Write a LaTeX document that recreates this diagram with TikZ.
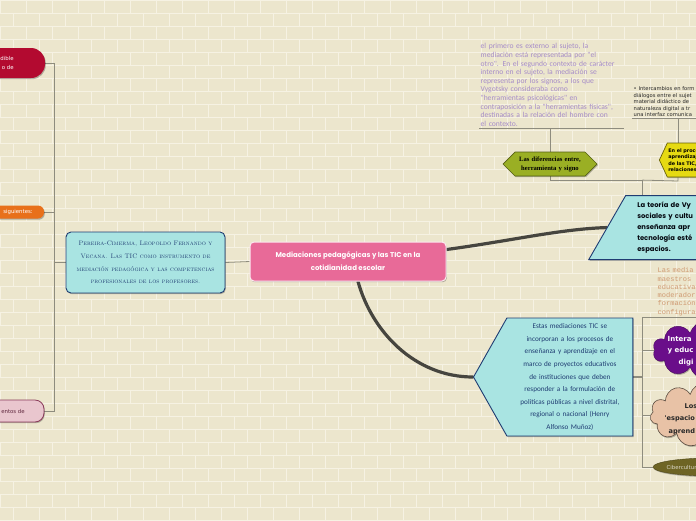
\documentclass[tikz,border=0pt]{standalone}
\usepackage{fontspec}
\usetikzlibrary{shapes.geometric,shapes.symbols,shadows,calc}
\newfontfamily\fntpop{Poppins}
\newfontfamily\fntcarl{Carlito}
\newfontfamily\fntdeja{DejaVu Sans}
\newfontfamily\fntser{Liberation Serif}
\newfontfamily\fntmono{Liberation Mono}
\definecolor{paper}{HTML}{ECE6CD}
\definecolor{joint}{HTML}{F6F2E3}
\definecolor{twig}{HTML}{8E8C7E}
\definecolor{trunkink}{HTML}{46453F}
\definecolor{navy}{HTML}{1F3C72}
\definecolor{aqua}{HTML}{A9E4E2}
\definecolor{rose}{HTML}{E86A98}
\definecolor{crimson}{HTML}{B30A30}
\definecolor{tangerine}{HTML}{E8701A}
\definecolor{blush}{HTML}{E9C6CE}
\definecolor{plum}{HTML}{8A3A5A}
\definecolor{lavender}{HTML}{A68CC8}
\definecolor{olivegreen}{HTML}{9AAF24}
\definecolor{lemon}{HTML}{E6DA12}
\definecolor{tan}{HTML}{CF9A72}
\definecolor{grape}{HTML}{6A0E8A}
\definecolor{peach}{HTML}{E8C2A6}
\definecolor{bark}{HTML}{6E6424}
\pgfdeclarelayer{paper}
\pgfdeclarelayer{links}
\pgfsetlayers{paper,links,main}
\tikzset{
  mm/.style={x=1pt,y=-1pt},
  shade/.style={drop shadow={shadow xshift=.8pt,shadow yshift=-1.2pt,
    opacity=.25,fill=black}},
  pill/.style={shade,inner sep=1pt,align=right,text=white,
    font=\fntdeja\fontsize{5.4}{8.5}\selectfont},
  card/.style={shade,draw=navy,fill=aqua,line width=.9pt,text=navy},
  topic/.style={shade,draw=white!85!rose,fill=rose,line width=1pt,
    rounded corners=4pt,text=white,align=center,minimum width=196pt,
    minimum height=39pt,font=\fntpop\bfseries\fontsize{7}{13}\selectfont},
  plain/.style={inner sep=1.5pt,align=left,anchor=north west},
  branch/.style={draw=twig,line width=.8pt},
  trunk/.style={draw=trunkink,line width=3.2pt,line cap=round},
  brick/.style={draw=joint,line width=.7pt},
}
\begin{document}
\begin{tikzpicture}[mm]
  \useasboundingbox (0,0) rectangle (696,520);
  \clip (0,0) rectangle (696,520);

  \begin{pgfonlayer}{paper}
    \fill[paper] (0,0) rectangle (696,520);
    \foreach \r in {0,...,40}
      \draw[brick] (0,\r*13) -- (696,\r*13);
    \foreach \r in {0,...,39}
      \foreach \c in {-1,...,27}
        \draw[brick] ({\c*26+mod(\r,2)*13},\r*13) -- ++(0,13);
  \end{pgfonlayer}

  % left side, children of the reference card
  \node[pill,fill=crimson,minimum width=76pt,minimum height=30pt,
    rounded corners=14pt] (dible) at (7,63) {dible\\o de};
  \node[pill,fill=tangerine,minimum width=52pt,minimum height=13pt,
    rounded corners=6pt] (siguientes) at (18,212) {siguientes:};
  \node[pill,fill=blush,draw=plum,line width=.8pt,text=plum!70!black,
    minimum width=62pt,minimum height=22pt,rounded corners=9pt]
    (entos) at (13,411) {entos de};

  \node[card,rounded corners=5pt,minimum width=159pt,minimum height=61pt,
    align=center,font=\rmfamily\scshape\fontsize{6.5}{12.7}\selectfont]
    (pereira) at (145.5,262.5)
    {Pereira-Cimerma, Leopoldo Fernando y\\Vecana. Las TIC como instrumento de\\
     mediación pedagógica y las competencias\\profesionales de los profesores.};

  % central topic
  \node[topic] (central) at (348,261.5)
    {Mediaciones pedagógicas y las TIC en la\\cotidianidad escolar};

  % upper right
  \node[card,trapezium,trapezium left angle=60,trapezium right angle=120,
    minimum height=64pt,text width=120pt,inner xsep=6pt,align=left,
    text=black!85!navy,anchor=bottom left corner,
    font=\fntpop\bfseries\fontsize{6.8}{11.2}\selectfont] (vygotsky) at (588,260)
    {La teoría de Vy\\sociales y cultu\\enseñanza apr\\tecnología esté\\espacios.};

  \node[shade,signal,signal to=west and east,signal pointer angle=90,
    fill=olivegreen,draw=olivegreen!55!black,line width=.7pt,
    minimum width=94pt,minimum height=24pt,text width=70pt,inner xsep=0pt,
    align=center,font=\fntser\bfseries\fontsize{6.6}{9}\selectfont]
    (diferencias) at (550,164) {Las diferencias entre,\\herramienta y signo};

  \node[plain,text width=142pt,text=lavender,
    font=\fntcarl\fontsize{7.6}{8.6}\selectfont] (primero) at (479,42)
    {el primero es externo al sujeto, la\\mediación está representada por "el\\
     otro". En el segundo contexto de carácter\\interno en el sujeto, la mediación se\\
     representa por los signos, a los que\\Vygotsky consideraba como\\
     "herramientas psicológicas" en\\contraposición a la "herramientas físicas",\\
     destinadas a la relación del hombre con\\el contexto.};

  \node[shade,signal,signal to=west,signal pointer angle=130,
    fill=lemon,draw=lemon!45!black,line width=.7pt,
    minimum height=34pt,text width=70pt,inner xsep=1pt,anchor=west,
    align=left,font=\fntdeja\bfseries\fontsize{4.9}{6.5}\selectfont]
    (proceso) at (659,160) {En el proce\\aprendizaj\\de las TIC,\\relaciones};

  \node[plain,text width=72pt,text=black!85,
    font=\fntdeja\fontsize{5.2}{6.5}\selectfont] (intercambios) at (632,85)
    {• Intercambios en form\\diálogos entre el sujet\\material didáctico de\\
     naturaleza digital a tr\\una interfaz comunica};

  % lower right
  \node[card,signal,signal to=west,signal pointer angle=121,
    minimum height=118pt,text width=118pt,inner xsep=4pt,anchor=west,
    align=center,font=\fntcarl\fontsize{7.2}{12.6}\selectfont]
    (estas) at (473,377)
    {Estas mediaciones TIC se\\incorporan a los procesos de\\
     enseñanza y aprendizaje en el\\marco de proyectos educativos\\
     de instituciones que deben\\responder a la formulación de\\
     políticas públicas a nivel distrital,\\regional o nacional (Henry\\
     Alfonso Muñoz)};

  \node[plain,text width=50pt,text=tan,
    font=\fntmono\fontsize{7}{8.3}\selectfont] (medias) at (656,266)
    {Las media\\maestros\\educativa\\moderador\\formación\\configura};

  \node[shade,cloud,cloud puffs=10,cloud ignores aspect,fill=grape,
    draw=grape!70!black,minimum width=106pt,minimum height=58pt]
    (intercloud) at (706,350) {};
  \node[plain,anchor=west,text=white,
    font=\fntdeja\bfseries\fontsize{7}{11.5}\selectfont] (interlabel) at (666,351)
    {Intera\\y educ\\\hspace*{11pt}digi};

  \node[shade,cloud,cloud puffs=11,cloud ignores aspect,fill=peach,
    draw=peach!40!black,line width=.6pt,minimum width=110pt,minimum height=64pt]
    (espcloud) at (705,415) {};
  \node[plain,anchor=west,text=black!85,
    font=\fntdeja\bfseries\fontsize{6.6}{12.3}\selectfont] (esplabel) at (663,419)
    {\hspace*{20pt}Los\\'espacio\\\hspace*{4pt}aprend};

  \node[shade,ellipse,fill=bark,draw=bark!70!black,minimum width=118pt,
    minimum height=18pt] (cibercloud) at (712,467) {};
  \node[plain,anchor=west,text=bark!25!white,
    font=\fntdeja\fontsize{5.4}{6}\selectfont] (ciberlabel) at (665,467)
    {Ciberculturs};

  % connectors
  \begin{pgfonlayer}{links}
    \draw[branch] (pereira.west) -- ++(-11,0) coordinate (lj);
    \draw[branch] (lj) |- (dible.east);
    \draw[branch] (lj) |- (siguientes.east);
    \draw[branch] (lj) |- (entos.east);
    \draw[branch] (pereira.east) -- (central.west);

    \draw[trunk] ([yshift=12pt]central.east) .. controls (510,241) and (560,229)
      .. ($(vygotsky.top left corner)!.5!(vygotsky.bottom left corner)$);
    \draw[trunk] ([xshift=10pt]central.south) .. controls (372,332) and (415,377)
      .. (estas.west);

    \draw[branch] ([xshift=17pt]vygotsky.top left corner) -- ++(0,-15)
      coordinate (tj);
    \draw[branch] (tj) -| (diferencias.south);
    \coordinate (yj) at (678,181);
    \draw[branch] (tj) -- (yj) -- (yj |- proceso.south);
    \draw[branch] (yj |- proceso.north) -- (yj |- intercambios.south);
    \draw[branch] (intercambios.south west) -- (intercambios.south east);
    \draw[branch] (diferencias.north) -- (diferencias.north |- primero.south);
    \draw[branch] (primero.south west) -- (primero.south east);

    \draw[branch,line width=1.4pt] (estas.east) -- ++(9,0) coordinate (rj);
    \draw[branch] (rj) |- (medias.south east);
    \draw[branch] (rj) |- (intercloud.west);
    \draw[branch] (rj) |- (espcloud.west);
    \draw[branch] (rj) |- (cibercloud.west);
  \end{pgfonlayer}
\end{tikzpicture}
\end{document}
